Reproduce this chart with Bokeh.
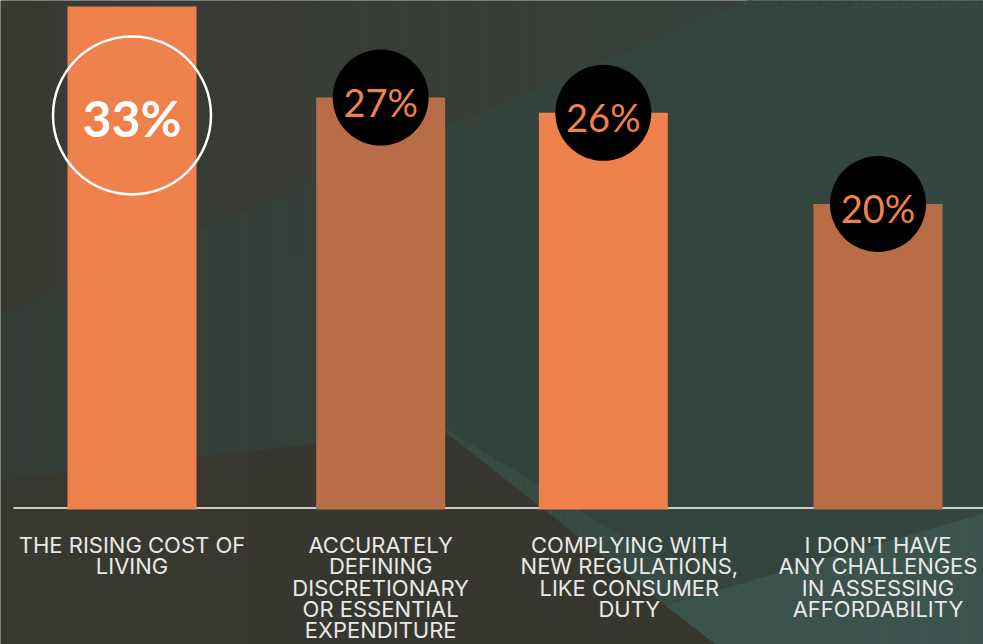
import numpy as np
from bokeh.plotting import figure
from bokeh.models import Range1d
from bokeh.core.properties import value
from bokeh.embed import file_html
from bokeh.resources import INLINE

# ---------------- data ----------------
categories = [
    "THE RISING COST OF\nLIVING",
    "ACCURATELY\nDEFINING\nDISCRETIONARY\nOR ESSENTIAL\nEXPENDITURE",
    "COMPLYING WITH\nNEW REGULATIONS,\nLIKE CONSUMER\nDUTY",
    "I DON'T HAVE\nANY CHALLENGES\nIN ASSESSING\nAFFORDABILITY",
]
values = [33, 27, 26, 20]
value_labels = ["33%", "27%", "26%", "20%"]

# ---------------- styles / layout ----------------
W, H = 983, 644
BASE_PX = 507.5          # screen y of the zero line
PX_PER_UNIT = 15.2       # screen px per percentage point
SLOT_PX = 248.67         # distance between category centres
FIRST_CENTER_PX = 131.5  # centre of first category
BAR_PX = 129
BAR_NUDGE_PX = [0, 0, -26, 0]   # design offset of the bars against their labels
ORANGE = "#EF824C"
MUTED = "#B96D46"
bar_colors = [ORANGE, MUTED, ORANGE, MUTED]

y_start = -(H - BASE_PX) / PX_PER_UNIT
y_end = BASE_PX / PX_PER_UNIT
x_start = -FIRST_CENTER_PX / SLOT_PX
x_end = (W - FIRST_CENTER_PX) / SLOT_PX

p = figure(width=W, height=H,
           x_range=Range1d(x_start, x_end), y_range=Range1d(y_start, y_end),
           x_axis_location=None, y_axis_location=None,
           output_backend="svg", toolbar_location=None, min_border=0)
p.grid.visible = False
p.outline_line_color = None
p.background_fill_color = "#37392F"
p.border_fill_color = "#37392F"
p.extra_x_ranges = {"px": Range1d(0, W)}
p.extra_y_ranges = {"px": Range1d(H, 0)}


# ---------------- background decoration (screen px) ----------------
def _clip(pts, inside, inter):
    out = []
    n = len(pts)
    for i in range(n):
        cur, prev = pts[i], pts[i - 1]
        if inside(cur):
            if not inside(prev):
                out.append(inter(prev, cur))
            out.append(cur)
        elif inside(prev):
            out.append(inter(prev, cur))
    return out


def _ix(xc):
    return lambda a, b: (xc, a[1] + (b[1] - a[1]) * (xc - a[0]) / (b[0] - a[0]))


def clip_x(poly, xmin, xmax):
    pts = _clip(poly, lambda q: q[0] >= xmin, _ix(xmin))
    if pts:
        pts = _clip(pts, lambda q: q[0] <= xmax, _ix(xmax))
    return pts


def grad_region(poly, c_left, c_right, step=10, alpha=1.0):
    xs, ys, cols = [], [], []
    for x in np.arange(0, W, step):
        pts = clip_x(poly, x - 0.6, x + step + 0.6)
        if len(pts) < 3:
            continue
        t = (x + step / 2) / W
        c = tuple(int(round(c_left[k] + (c_right[k] - c_left[k]) * t)) for k in range(3))
        xs.append([q[0] for q in pts])
        ys.append([q[1] for q in pts])
        cols.append("#%02x%02x%02x" % c)
    p.patches(xs, ys, fill_color=cols, fill_alpha=alpha, line_color=None,
              x_range_name="px", y_range_name="px")


def L1(x):
    return 313 - 0.42 * x


top_region = [(0, 0), (W, 0), (W, L1(W)), (0, L1(0))]
wedge = [(0, L1(0)), (W, L1(W)), (W, H), (715, H), (445, 432), (300, 445), (0, 480)]
dark = [(0, 480), (300, 445), (445, 432), (715, H), (0, H)]
light = [(665, 605), (W, 513), (W, H), (715, H)]
band = [(425, 416), (715, H), (800, H)]

grad_region(top_region, (57, 57, 50), (54, 67, 61))
grad_region(wedge, (53, 60, 55), (52, 71, 64))
grad_region(dark, (56, 56, 48), (54, 54, 47))
grad_region(band, (64, 92, 86), (64, 92, 86), alpha=0.3)
grad_region(light, (58, 80, 74), (59, 84, 78))

# zero line
p.segment(x0=[13], y0=[BASE_PX], x1=[W], y1=[BASE_PX], line_color="white",
          line_width=1.5, x_range_name="px", y_range_name="px")

# ---------------- bars ----------------
idx = list(range(len(values)))
bar_x = [i + n / SLOT_PX for i, n in zip(idx, BAR_NUDGE_PX)]
p.vbar(x=bar_x, top=values, bottom=-1.5 / PX_PER_UNIT, width=BAR_PX / SLOT_PX,
       fill_color=bar_colors, line_color=None)

# category labels
p.text(x=idx, y=[0] * len(idx), text=categories, text_align="center",
       text_baseline="top", y_offset=24, text_font=value("Inter"),
       text_font_size="22px", text_color="#E8E8E8", text_line_height=0.82)

# first value: white ring
ring_y = values[0] - 109 / PX_PER_UNIT
p.circle(x=[bar_x[0]], y=[ring_y], radius=79, radius_units="screen",
         fill_color=None, line_color="white", line_width=2.5)
p.text(x=[bar_x[0]], y=[ring_y], text=[value_labels[0]], text_align="center",
       text_baseline="middle", y_offset=3, text_font=value("Lato"),
       text_font_style="bold", text_font_size="50px", text_color="white")

# other values: black discs
p.circle(x=bar_x[1:], y=values[1:], radius=48, radius_units="screen",
         fill_color="black", line_color=None)
p.text(x=bar_x[1:], y=values[1:], text=value_labels[1:], text_align="center",
       text_baseline="middle", y_offset=4, text_font=value("Lato"),
       text_font_size="38px", text_color=ORANGE)

open("out.html", "w").write(file_html(p, INLINE))
